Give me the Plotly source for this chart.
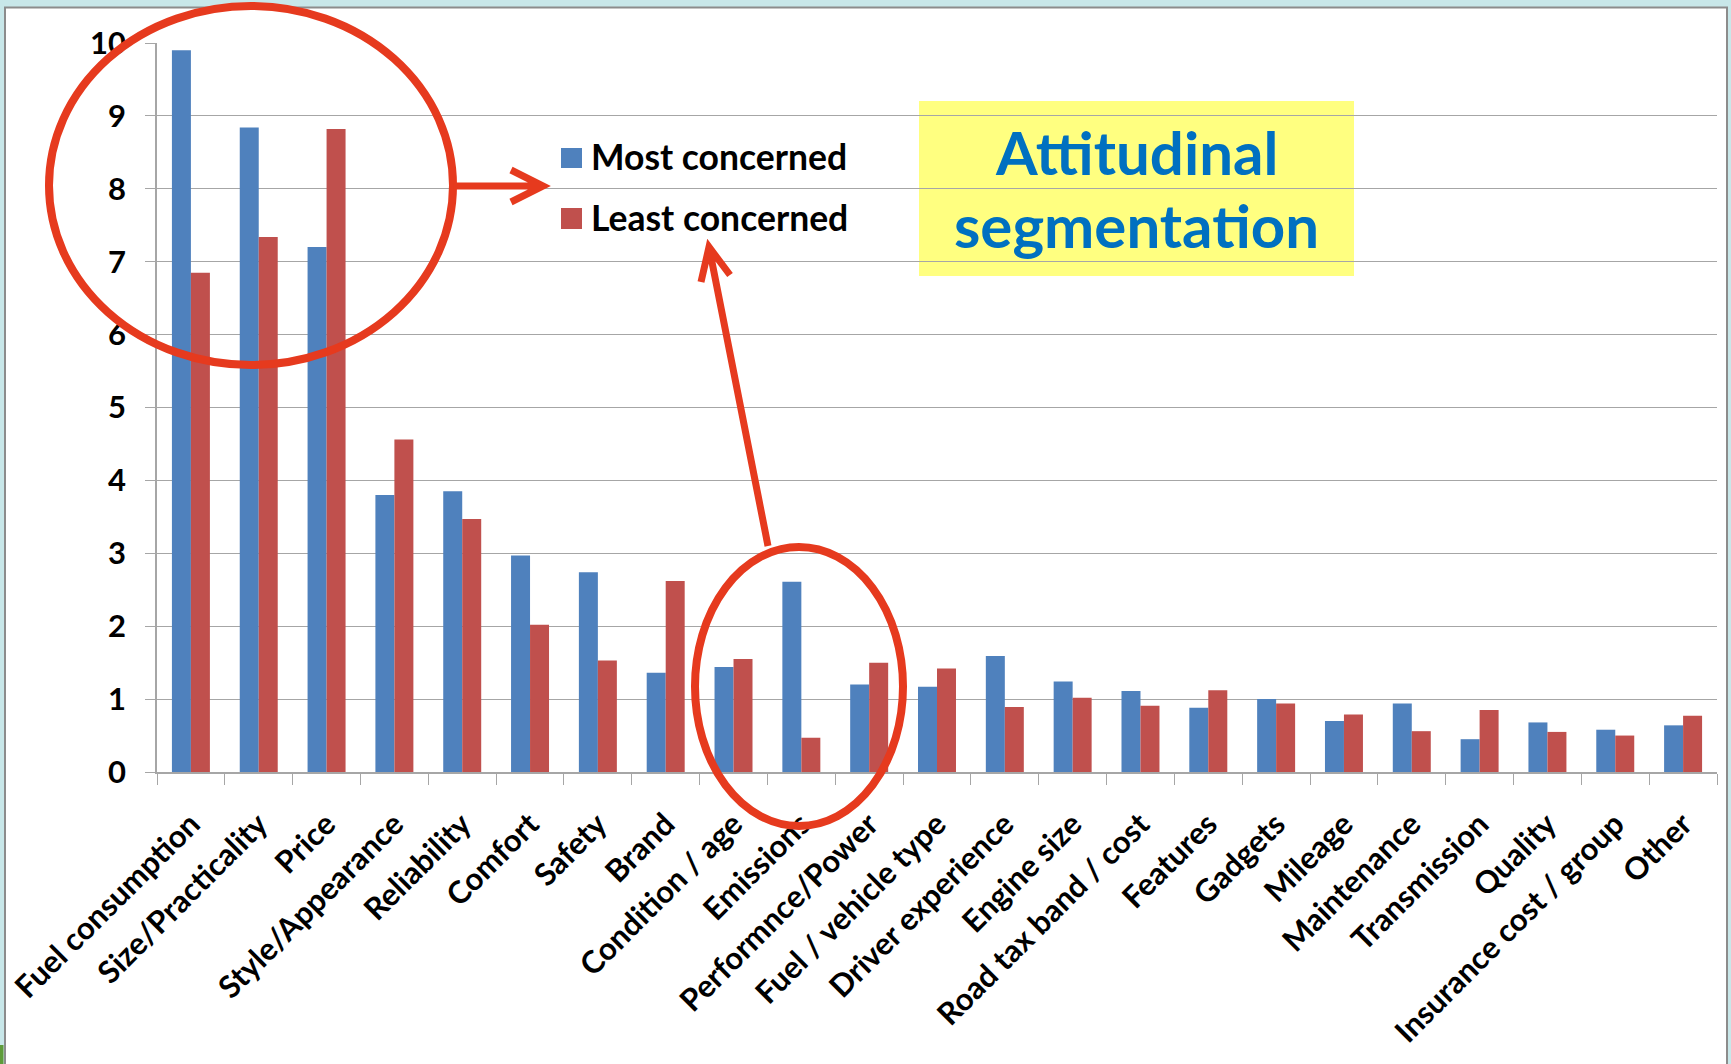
import plotly.graph_objects as go

# Survey factors, in display order
categories = [
    "Fuel consumption", "Size/Practicality", "Price", "Style/Appearance",
    "Reliability", "Comfort", "Safety", "Brand", "Condition / age",
    "Emissions", "Performnce/Power", "Fuel / vehicle type",
    "Driver experience", "Engine size", "Road tax band / cost", "Features",
    "Gadgets", "Mileage", "Maintenance", "Transmission", "Quality",
    "Insurance cost / group", "Other",
]
most_concerned = [
    9.9, 8.84, 7.2, 3.8, 3.85, 2.97, 2.74, 1.36, 1.44, 2.61, 1.2, 1.17,
    1.59, 1.24, 1.11, 0.88, 1.0, 0.7, 0.94, 0.45, 0.68, 0.58, 0.64,
]
least_concerned = [
    6.85, 7.34, 8.82, 4.56, 3.47, 2.02, 1.53, 2.62, 1.55, 0.47, 1.5, 1.42,
    0.89, 1.02, 0.91, 1.12, 0.94, 0.79, 0.56, 0.85, 0.55, 0.5, 0.77,
]
y_ticks = [0, 1, 2, 3, 4, 5, 6, 7, 8, 9, 10]

BLUE = "#4F81BD"
RED = "#C0504D"
MARK = "#E63A1E"
GRID = "#A6A6A6"
FONT = "Lato"

W, H = 1731, 1064
L, R, T, B = 157, 14, 43, 292
PW, PH = W - L - R, H - T - B


def fx(px):
    return (px - L) / PW


def fy(py):
    return (H - B - py) / PH


def path(points_groups):
    d = ""
    for pts in points_groups:
        d += "M " + " L ".join(f"{fx(x):.5f},{fy(y):.5f}" for x, y in pts) + " "
    return d.strip()


fig = go.Figure()
fig.add_trace(go.Bar(name="Most concerned", x=categories, y=most_concerned,
                     marker=dict(color=BLUE, line=dict(width=0))))
fig.add_trace(go.Bar(name="Least concerned", x=categories, y=least_concerned,
                     marker=dict(color=RED, line=dict(width=0))))

shapes = [
    # slide frame
    dict(type="rect", xref="paper", yref="paper", layer="below",
         x0=fx(5), x1=fx(1727), y0=fy(7.5), y1=fy(1080),
         fillcolor="white", line=dict(color="#8C8C8C", width=2)),
    # title box
    dict(type="rect", xref="paper", yref="paper", layer="below",
         x0=fx(919), x1=fx(1354), y0=fy(101), y1=fy(276),
         fillcolor="#FFFF80", line=dict(width=0)),
    # small green corner of the slide background
    dict(type="rect", xref="paper", yref="paper", layer="below",
         x0=fx(0), x1=fx(3.5), y0=fy(1045), y1=fy(1064),
         fillcolor="#5E9B3A", line=dict(width=0)),
    # highlight around the top three factors
    dict(type="circle", xref="paper", yref="paper", layer="above",
         x0=fx(49), x1=fx(453), y0=fy(6), y1=fy(365),
         line=dict(color=MARK, width=8)),
    dict(type="path", xref="paper", yref="paper", layer="above",
         path=path([[(454, 186), (541, 186)], [(511, 170), (543, 186), (511, 202)]]),
         line=dict(color=MARK, width=7)),
    # highlight around Condition / Emissions / Performance
    dict(type="circle", xref="paper", yref="paper", layer="above",
         x0=fx(695), x1=fx(903), y0=fy(547), y1=fy(826),
         line=dict(color=MARK, width=8)),
    dict(type="path", xref="paper", yref="paper", layer="above",
         path=path([[(768, 546), (710, 252)], [(701, 282), (709, 247), (730, 275)]]),
         line=dict(color=MARK, width=7)),
    # legend swatches
    dict(type="rect", xref="paper", yref="paper", layer="above",
         x0=fx(561), x1=fx(582), y0=fy(148), y1=fy(168),
         fillcolor=BLUE, line=dict(width=0)),
    dict(type="rect", xref="paper", yref="paper", layer="above",
         x0=fx(561), x1=fx(582), y0=fy(208), y1=fy(229),
         fillcolor=RED, line=dict(width=0)),
]

annotations = [
    dict(xref="paper", yref="paper", x=fx(589), y=fy(157), xanchor="left",
         yanchor="middle", text="Most concerned", showarrow=False,
         font=dict(family=FONT, size=35.5, color="black", weight="bold")),
    dict(xref="paper", yref="paper", x=fx(589), y=fy(217), xanchor="left",
         yanchor="middle", text="Least concerned", showarrow=False,
         font=dict(family=FONT, size=35.5, color="black", weight="bold")),
    dict(xref="paper", yref="paper", x=fx(1136), y=fy(152), xanchor="center",
         yanchor="middle", text="Attitudinal", showarrow=False,
         font=dict(family=FONT, size=60, color="#0070C0", weight="bold")),
    dict(xref="paper", yref="paper", x=fx(1136), y=fy(225), xanchor="center",
         yanchor="middle", text="segmentation", showarrow=False,
         font=dict(family=FONT, size=60, color="#0070C0", weight="bold")),
]

fig.update_layout(
    width=W, height=H, autosize=False,
    margin=dict(l=L, r=R, t=T, b=B, pad=0),
    paper_bgcolor="#C8E7E9",
    plot_bgcolor="rgba(0,0,0,0)",
    barmode="group", bargap=0.44, bargroupgap=0,
    showlegend=False,
    shapes=shapes,
    annotations=annotations,
    xaxis=dict(
        type="category", tickangle=-45, automargin=False,
        ticks="outside", tickson="boundaries", ticklen=11, tickwidth=1.3,
        tickcolor=GRID, showline=True, linecolor=GRID, linewidth=1.5,
        showgrid=False, ticklabelstandoff=20,
        tickfont=dict(family=FONT, size=31, color="black", weight="bold"),
    ),
    yaxis=dict(
        range=[0, 10], tickvals=y_ticks, automargin=False,
        ticks="outside", ticklen=10, tickwidth=1.3, tickcolor=GRID,
        showline=True, linecolor=GRID, linewidth=1.5,
        showgrid=True, gridcolor=GRID, gridwidth=1.3, zeroline=False,
        tickfont=dict(family=FONT, size=31, color="black", weight="bold"),
        ticklabelstandoff=13,
    ),
)

fig.write_html("out.html")
